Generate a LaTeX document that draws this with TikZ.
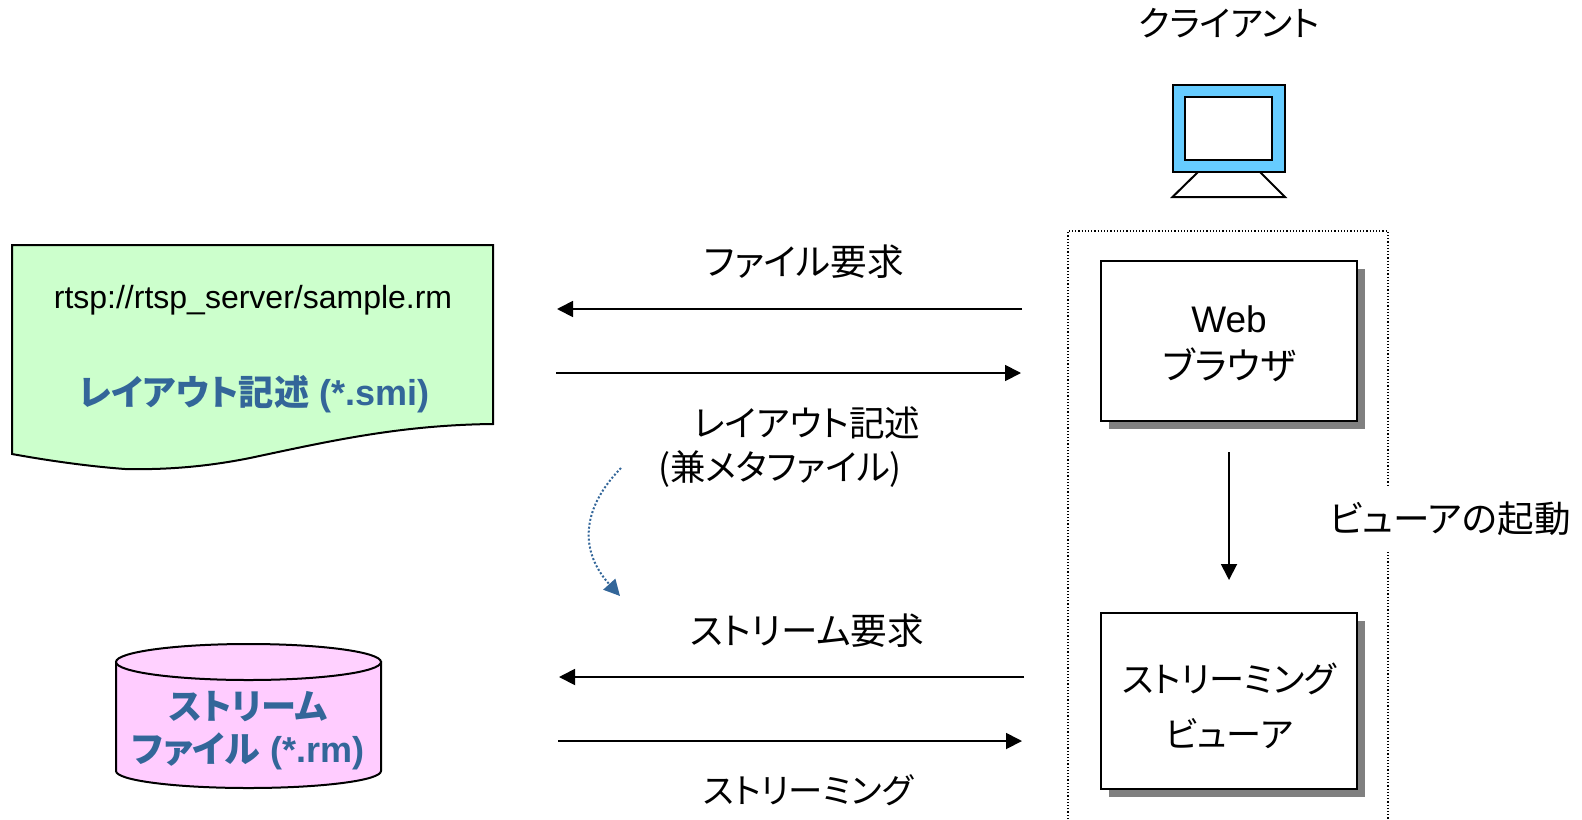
\documentclass[tikz,border=0pt]{standalone}
\usepackage{fontspec}
\setmainfont{Liberation Sans}
\newfontfamily\jp[RawFeature=+palt]{Noto Sans CJK JP}
\newfontfamily\jpb[RawFeature=+palt]{Noto Sans CJK JP Bold}
\usepackage{tikz}
\usetikzlibrary{arrows.meta,shadows}
\definecolor{docgreen}{HTML}{CCFFCC}
\definecolor{filepink}{HTML}{FFCCFF}
\definecolor{screenblue}{HTML}{66CCFF}
\definecolor{titleblue}{HTML}{336699}
\tikzset{
  label/.style={font=\fontsize{#1}{22}\selectfont\jp, inner sep=0pt},
  label/.default=18.3,
  title/.style={font=\fontsize{18}{22}\selectfont\bfseries, text=titleblue, inner sep=0pt},
  appbox/.style={draw, line width=1pt, fill=white, minimum width=128pt, align=center,
    font=\fontsize{17.6}{22}\selectfont,
    drop shadow={shadow xshift=4pt, shadow yshift=-4pt, fill=black!50, opacity=1}},
}

\begin{document}
\begin{tikzpicture}[x=0.5pt,y=-0.5pt,->,>={Triangle[length=8pt,width=8pt]},line width=0.9pt]
  \useasboundingbox (0,0) rectangle (1582,819);

  % layout file and stream file
  \draw[-,line width=1pt,fill=docgreen] (12,245) -- (493,245) -- (493,424)
    .. controls (400,425) and (330,441) .. (250,458)
    .. controls (210,466) and (170,470) .. (125,469)
    .. controls (85,466) and (45,460) .. (12,454) -- cycle;
  \draw[-,line width=1pt,fill=filepink] (116,662) -- (116,771)
    arc[start angle=180,end angle=0,x radius=132.5,y radius=17] -- (381,662) -- cycle;
  \draw[-,line width=1pt,fill=filepink!90!white] (248.5,662) ellipse[x radius=132.5,y radius=18];
  \node [inner sep=0pt,font=\fontsize{16}{18}\selectfont] (url) at (253,300) {rtsp://rtsp\_server/sample.rm};
  \node [title] (doc) at (254,394) {{\fontsize{17.6}{22}\selectfont\jpb レイアウト記述} (*.smi)};
  \node [title] (stream) at (248,707) {\fontsize{17.6}{22}\selectfont\jpb ストリーム};
  \node [title] (file) at (248,751) {{\jpb ファイル} (*.rm)};

  % client
  \node [label=17.5] (client) at (1229,23) {クライアント};
  \draw[-,line width=1pt,fill=screenblue] (1172.5,85) rectangle (1285,172);
  \draw[-,line width=1pt,fill=white] (1184.5,97) rectangle (1272,160);
  \draw[-,line width=1pt] (1198,172) -- (1172.5,197) -- (1285,197) -- (1260,172);
  \draw[-,line width=0.6pt,dash pattern=on 0.6pt off 1pt] (1068,819) -- (1068,231) -- (1388,231) -- (1388,819);

  \node [appbox, minimum height=80pt] (web) at (1229,341) {\rule{0pt}{16pt}\fontsize{18.5}{22}\selectfont Web\\[1.5pt]{\fontsize{18.5}{22}\selectfont\jp ブラウザ}};
  \node [appbox, minimum height=88pt] (viewer) at (1229,701) {\rule{0pt}{20pt}\jp ストリーミング\\[5.5pt]\jp ビューア};
  \node [label, fill=white, inner xsep=0pt, inner ysep=7pt] (start) at (1450,519) {ビューアの起動};
  \draw[shorten <=15pt,shorten >=16pt] (web) -- (viewer);

  % requests and replies
  \coordinate (a1) at (1022,309);
  \coordinate (a2) at (557,309);
  \coordinate (b1) at (556,373);
  \coordinate (b2) at (1021,373);
  \coordinate (c1) at (1024,677);
  \coordinate (c2) at (559,677);
  \coordinate (d1) at (558,741);
  \coordinate (d2) at (1022,741);
  \draw (a1) -- (a2);
  \draw (b1) -- (b2);
  \draw (c1) -- (c2);
  \draw (d1) -- (d2);
  \node [label] (fetch) at (804,262) {ファイル要求};
  \node [label=17.8] (layout) at (807,423) {レイアウト記述};
  \node [label=17.7] (meta) at (780,469) {({\jp 兼メタファイル})};
  \node [label] (ask) at (807,631) {ストリーム要求};
  \node [label=17.2] (play) at (808,790) {ストリーミング};

  \coordinate (from) at (621,468);
  \coordinate (to) at (620,596);
  \draw[titleblue,dash pattern=on 1pt off 1pt,line width=1pt] (from) .. controls (580,510) and (580,552) .. (to);
\end{tikzpicture}
\end{document}
